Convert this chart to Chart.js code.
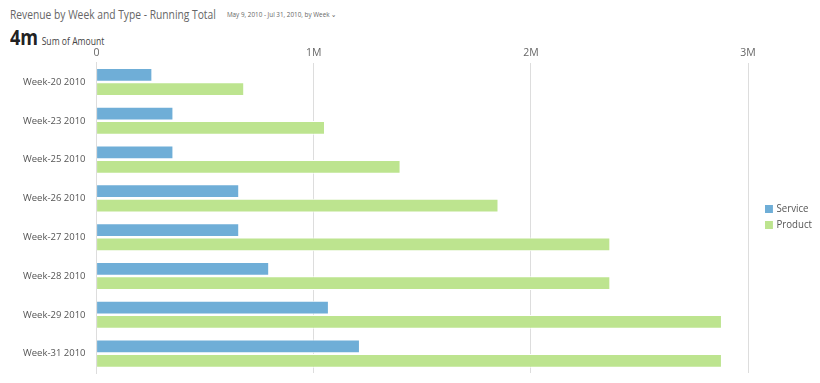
<!DOCTYPE html>
<html>
<head>
<meta charset="utf-8">
<script src="https://cdn.jsdelivr.net/npm/chart.js@4/dist/chart.umd.min.js"></script>
<style>
  body { margin: 0; background: #fff; font-family: "Open Sans", sans-serif; }
  #title { position: absolute; left: 10px; top: 5px; font-size: 13px; color: #666; white-space: nowrap;
           transform: scaleX(0.79); transform-origin: left top; }
  #title small { font-size: 8px; color: #666; margin-left: 14px; vertical-align: 2px; }
  #total { position: absolute; left: 10px; top: 23px; white-space: nowrap; color: #333;
           transform: scaleX(0.86); transform-origin: left top; }
  #total b { font-size: 21px; font-weight: 700; color: #222; }
  #total span { font-size: 10px; color: #444; }
  #wrap { position: absolute; left: 0; top: 44px; width: 820px; height: 339px; }
  #legend { position: absolute; left: 765px; top: 200px; font-size: 11px; color: #555;
            transform: scaleX(0.88); transform-origin: left top; }
  #legend div { height: 16px; line-height: 16px; white-space: nowrap; }
  #legend i { display: inline-block; width: 9px; height: 8px; margin-right: 4px; vertical-align: -0.5px; }
</style>
</head>
<body>
<div id="title">Revenue by Week and Type - Running Total<small>May 9, 2010 - Jul 31, 2010, by Week &#x2304;</small></div>
<div id="total"><b>4m</b> <span>Sum of Amount</span></div>
<div id="wrap"><canvas id="revChart"></canvas></div>
<div id="legend"></div>
<script>
// Données (cumul par semaine)
const weeks = ["Week-20 2010", "Week-23 2010", "Week-25 2010", "Week-26 2010",
               "Week-27 2010", "Week-28 2010", "Week-29 2010", "Week-31 2010"];
const serviceValues = [257000, 354000, 354000, 657000, 657000, 795000, 1070000, 1213000];
const productValues = [680000, 1052000, 1400000, 1851000, 2366000, 2366000, 2880000, 2880000];
const tickLabels = {0: "0", 1000000: "1M", 2000000: "2M", 3000000: "3M"};

const ctx = document.getElementById('revChart').getContext('2d');
const revChart = new Chart(ctx, {
    type: 'bar',
    data: {
        labels: weeks,
        datasets: [{
            label: "Service",
            data: serviceValues,
            backgroundColor: "#6faed7",
            borderColor: "#ffffff",
            borderWidth: 1
        }, {
            label: "Product",
            data: productValues,
            backgroundColor: "#bde48f",
            borderColor: "#ffffff",
            borderWidth: 1
        }]
    },
    options: {
        indexAxis: 'y',
        responsive: true,
        maintainAspectRatio: false,
        animation: false,
        layout: { padding: { left: 20, right: 72, top: 0, bottom: 10 } },
        datasets: { bar: { categoryPercentage: 0.74, barPercentage: 0.96 } },
        scales: {
            x: {
                position: 'top',
                min: 0,
                max: 3000000,
                ticks: {
                    stepSize: 1000000,
                    color: "#666",
                    font: { family: "Open Sans", size: 10.5 },
                    callback: v => tickLabels[v] ?? ""
                },
                grid: { color: "#dddddd", drawTicks: false },
                border: { display: false }
            },
            y: {
                ticks: { color: "#555", font: { family: "Open Sans", size: 9.5 } },
                grid: { display: false },
                border: { color: "#dddddd" }
            }
        },
        plugins: {
            legend: { display: false },
            tooltip: { enabled: false }
        }
    }
});

// Légende à droite, construite depuis les datasets
document.getElementById('legend').innerHTML = revChart.data.datasets.map(ds =>
    '<div><i style="background:' + ds.backgroundColor + '"></i>' + ds.label + '</div>'
).join('');
</script>
</body>
</html>
